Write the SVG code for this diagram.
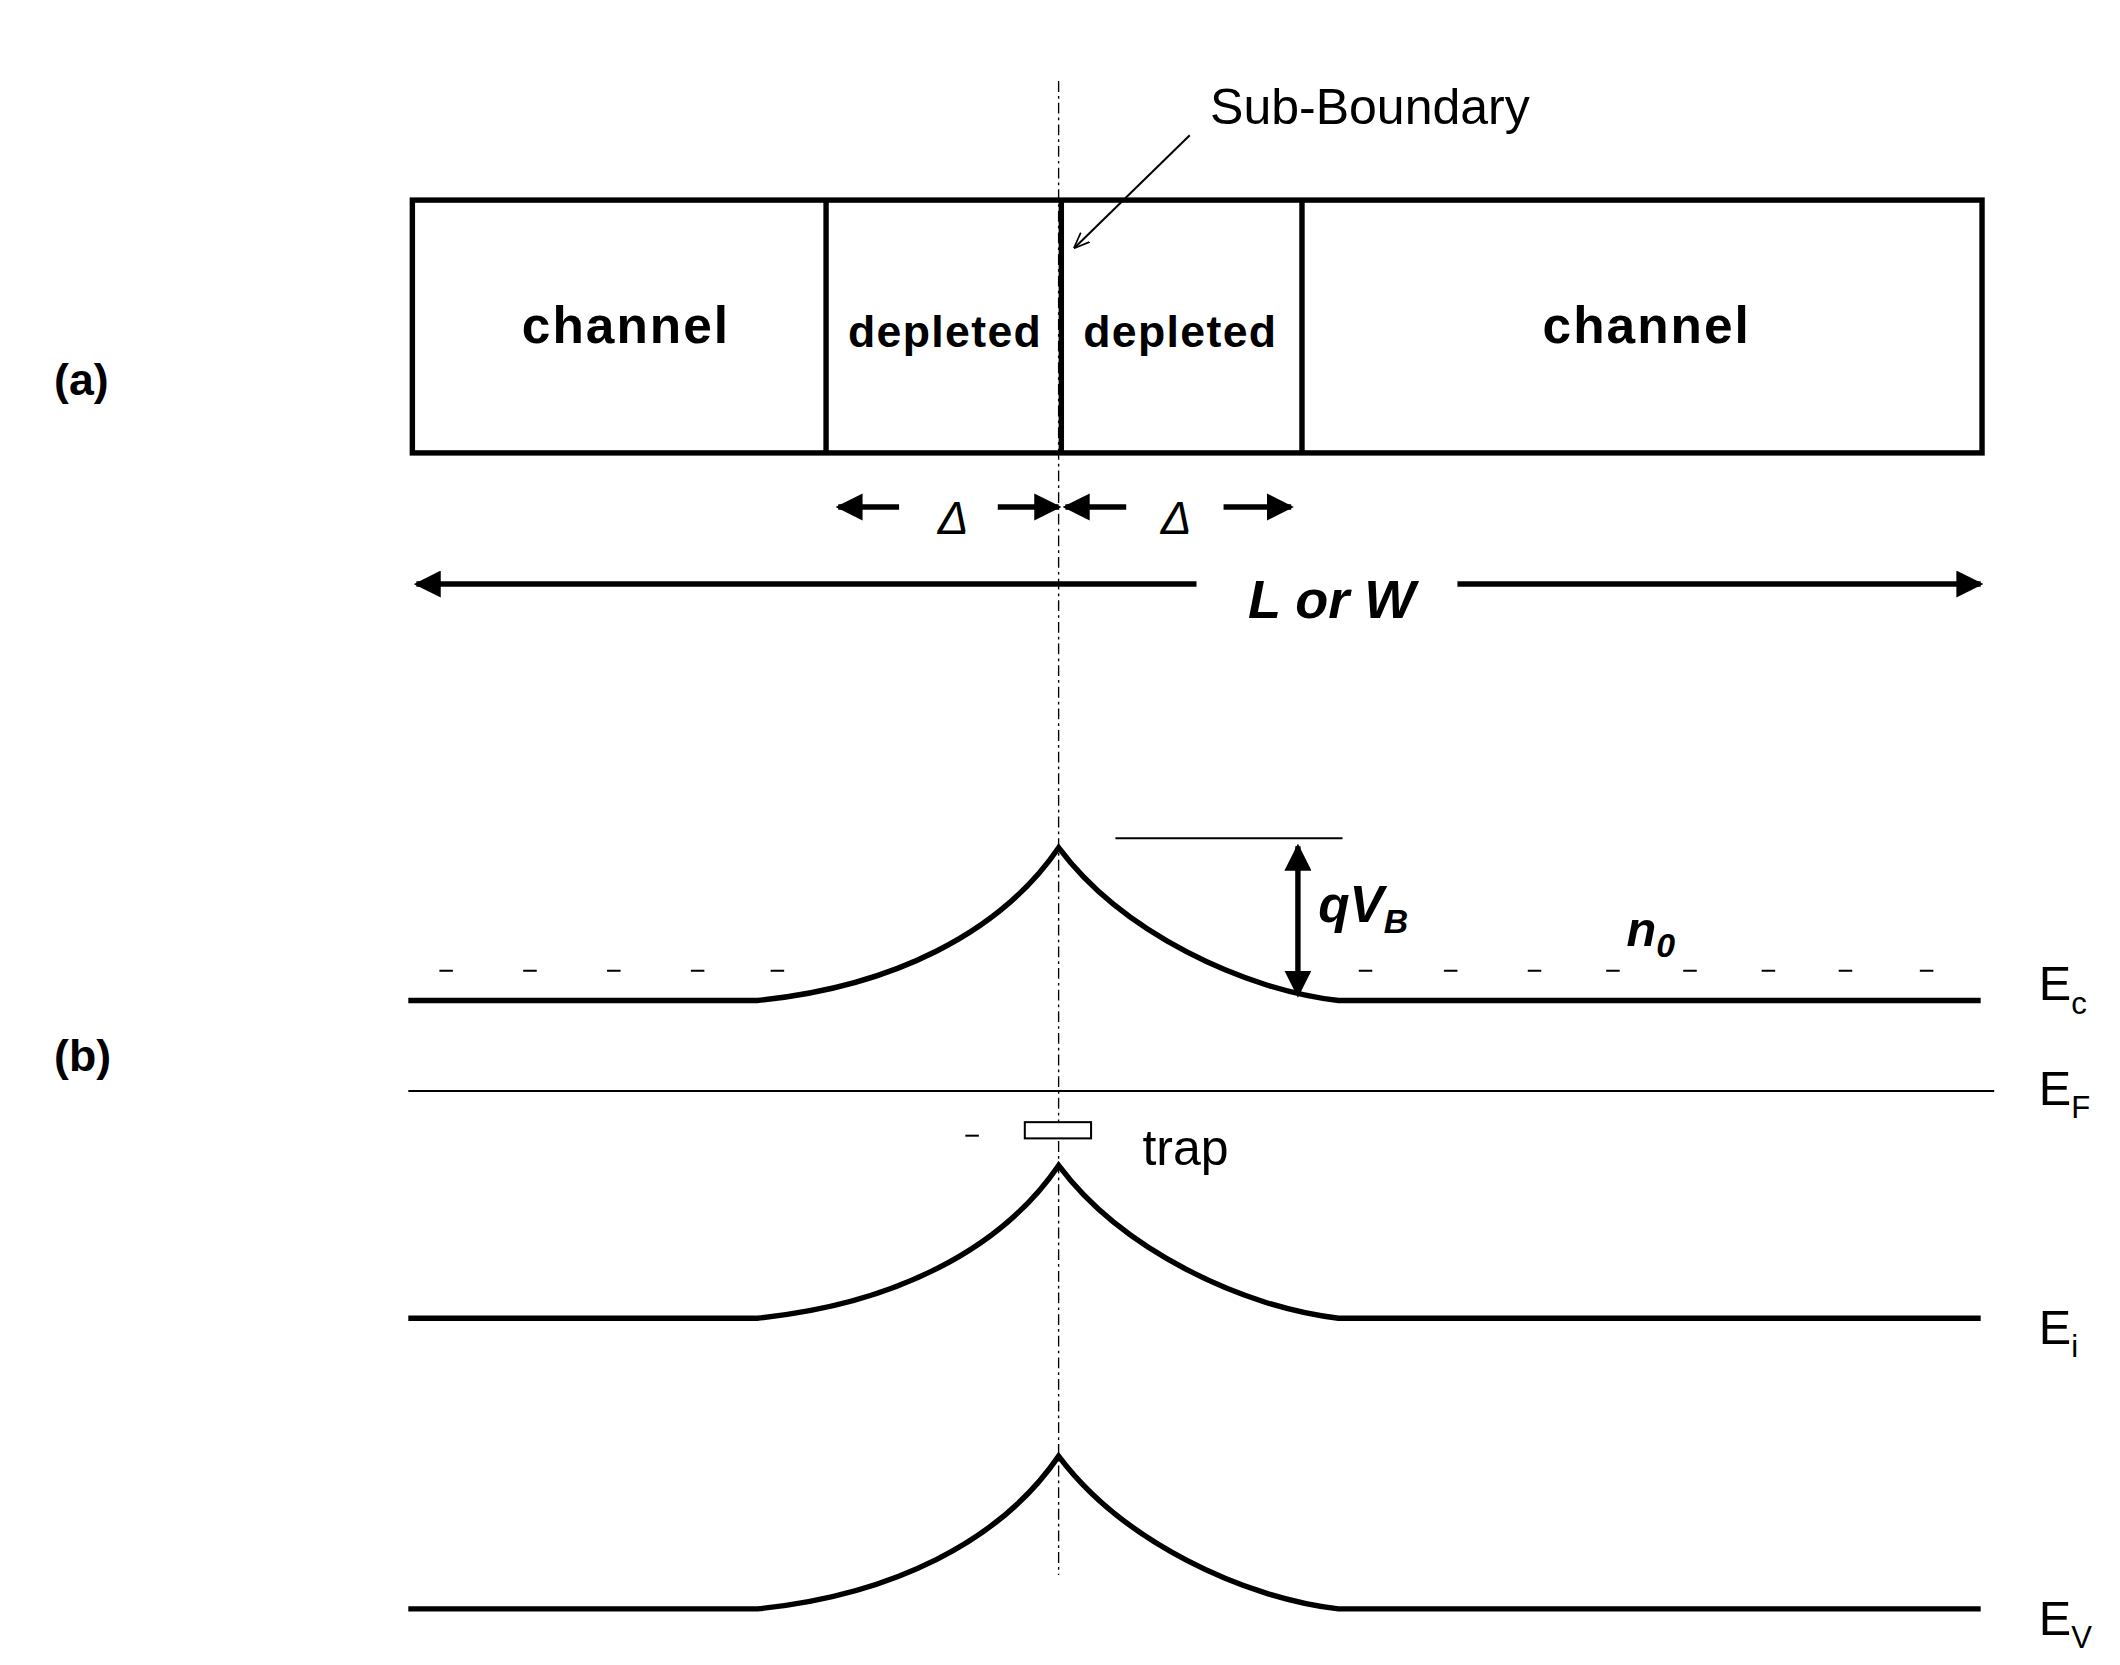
<svg xmlns="http://www.w3.org/2000/svg" width="2120" height="1665" viewBox="0 0 2120 1665">
<style>
.b{font-family:"Liberation Sans",Arial,sans-serif;font-weight:bold;fill:#000}
.n{font-family:"Liberation Sans",Arial,sans-serif;fill:#000}
.thick{stroke:#000;stroke-width:4;fill:none}
.thin{stroke:#000;stroke-width:1.5;fill:none}
</style>
<defs>
<marker id="ah" viewBox="0 0 10 10" refX="9" refY="5" markerWidth="5" markerHeight="5" orient="auto-start-reverse"><path d="M0,0 L10,5 L0,10 z" fill="#000"/></marker>
<marker id="ahs" viewBox="0 0 10 10" refX="9" refY="5" markerWidth="8" markerHeight="8" orient="auto"><path d="M0,1 L10,5 L0,9" fill="none" stroke="#000"/></marker>
</defs>
<rect width="2120" height="1665" fill="#fff"/>
<g transform="scale(1.352)">
<g id="box">
<rect x="305" y="148" width="1161" height="187" class="thick" stroke-width="3.5"/>
<line x1="611" y1="148" x2="611" y2="335" class="thick" stroke-width="3"/>
<line x1="785" y1="148" x2="785" y2="335" class="thick" stroke-width="3"/>
<line x1="963" y1="148" x2="963" y2="335" class="thick" stroke-width="3"/>
<text x="463" y="254" class="b" font-size="38" letter-spacing="1.5" text-anchor="middle">channel</text>
<text x="699" y="257" class="b" font-size="33" letter-spacing="1" text-anchor="middle">depleted</text>
<text x="873" y="257" class="b" font-size="33" letter-spacing="1" text-anchor="middle">depleted</text>
<text x="1218" y="254" class="b" font-size="38" letter-spacing="1.5" text-anchor="middle">channel</text>
</g>
<text x="40" y="292" class="b" font-size="33">(a)</text>
<text x="40" y="792" class="b" font-size="33">(b)</text>
<g id="subboundary">
<text x="895" y="92" class="n" font-size="37">Sub-Boundary</text>
</g>
<g id="connectors">
<line x1="880" y1="100" x2="795" y2="183" class="thin" marker-end="url(#ahs)"/>
<line x1="783" y1="60" x2="783" y2="1165" stroke="#000" stroke-width="1" stroke-dasharray="8,3,2,3"/>
<line x1="665" y1="375" x2="620" y2="375" class="thick" marker-end="url(#ah)"/>
<line x1="738" y1="375" x2="783" y2="375" class="thick" marker-end="url(#ah)"/>
<line x1="833" y1="375" x2="788" y2="375" class="thick" marker-end="url(#ah)"/>
<line x1="905" y1="375" x2="955" y2="375" class="thick" marker-end="url(#ah)"/>
<line x1="885" y1="432" x2="308" y2="432" class="thick" marker-end="url(#ah)"/>
<line x1="1078" y1="432" x2="1465" y2="432" class="thick" marker-end="url(#ah)"/>
<line x1="960" y1="626" x2="960" y2="736" class="thick" marker-start="url(#ah)" marker-end="url(#ah)"/>
</g>
<text x="705" y="395" class="n" font-size="34" font-style="italic" text-anchor="middle">Δ</text>
<text x="870" y="395" class="n" font-size="34" font-style="italic" text-anchor="middle">Δ</text>
<text x="985" y="457" class="b" font-size="40" font-style="italic" text-anchor="middle">L or W</text>
<g id="bands">
<path d="M302,740 L560,740 C660,730 740,690 783,627 C830,690 920,732 990,740 L1465,740" class="thick"/>
<path d="M302,975 L560,975 C660,965 740,925 783,862 C830,925 920,967 990,975 L1465,975" class="thick"/>
<path d="M302,1190 L560,1190 C660,1180 740,1140 783,1077 C830,1140 920,1182 990,1190 L1465,1190" class="thick"/>
<line x1="302" y1="807" x2="1475" y2="807" class="thin"/>
<line x1="825" y1="620" x2="993" y2="620" class="thin"/>
<path d="M325,718h10M387,718h10M449,718h10M511,718h10M570,718h10M1005,718h10M1068,718h10M1130,718h10M1188,718h10M1245,718h10M1303,718h10M1360,718h10M1420,718h10" stroke="#000" stroke-width="1.5"/>
<rect x="758" y="830" width="49" height="12" fill="#fff" stroke="#000" stroke-width="1.5"/>
<line x1="714" y1="840" x2="724" y2="840" stroke="#000" stroke-width="1.5"/>
<text x="845" y="862" class="n" font-size="37">trap</text>
<text x="975" y="682" class="b" font-size="38" font-style="italic">qV<tspan font-size="25" dy="8">B</tspan></text>
<text x="1203" y="700" class="b" font-size="36" font-style="italic">n<tspan font-size="25" dy="8">0</tspan></text>
<text x="1508" y="740" class="n" font-size="36">E<tspan font-size="23" dy="10">c</tspan></text>
<text x="1508" y="817" class="n" font-size="36">E<tspan font-size="23" dy="10">F</tspan></text>
<text x="1508" y="994" class="n" font-size="36">E<tspan font-size="23" dy="10">i</tspan></text>
<text x="1508" y="1209" class="n" font-size="36">E<tspan font-size="23" dy="10">V</tspan></text>
</g>
</g>
</svg>
